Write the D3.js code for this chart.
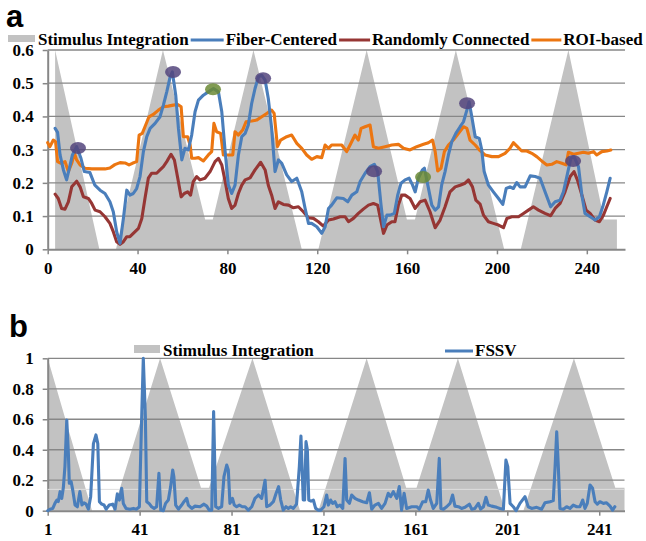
<!DOCTYPE html>
<html>
<head>
<meta charset="utf-8">
<script src="https://cdnjs.cloudflare.com/ajax/libs/d3/7.8.5/d3.min.js"></script>
<style>
  body { margin: 0; background: #fff; }
  svg text { font-family: "Liberation Serif", "Times New Roman", serif; font-weight: bold; font-size: 17px; fill: #000; }
  svg text.panel-label { font-family: "Liberation Sans", Arial, sans-serif; font-size: 31px; }
</style>
</head>
<body>
<div id="chart"></div>
<script>
// ---- panel a data ----
const topStimX = [3.3, 3.3, 23, 30.4, 51.3, 70.1, 73.5, 91.6, 113.1, 120.5, 142, 159.9, 163.5, 181.7, 203.2, 210.6, 231.8, 247.7, 253.4, 253.4];
const topStimY = [0, 0.6, 0, 0, 0.6, 0.09, 0.09, 0.6, 0, 0, 0.6, 0.09, 0.09, 0.6, 0, 0, 0.6, 0.09, 0.09, 0];

const fiberCentered = [[3.3,0.364],[4.4,0.352],[5.5,0.284],[7,0.239],[8.4,0.209],[10,0.254],[11,0.284],[12.9,0.309],[14.8,0.274],[16.3,0.234],[18.8,0.231],[21,0.193],[23.3,0.178],[25.5,0.168],[27.7,0.143],[29.2,0.113],[30.7,0.053],[32.2,0.018],[33.7,0.093],[35.2,0.178],[36.6,0.163],[38.1,0.168],[39.6,0.183],[41.1,0.219],[42.6,0.294],[44.1,0.339],[45.6,0.364],[47.8,0.379],[50,0.399],[51.5,0.434],[53,0.474],[54.5,0.519],[55.5,0.534],[57,0.464],[58.2,0.364],[59.7,0.269],[61.1,0.304],[62.6,0.299],[64.1,0.344],[65.6,0.414],[67.1,0.449],[69.3,0.464],[71.5,0.474],[73.8,0.484],[76,0.474],[77.5,0.414],[79,0.294],[80.4,0.194],[81.9,0.168],[83.4,0.193],[84.9,0.284],[86.4,0.339],[87.9,0.349],[89.3,0.374],[90.8,0.439],[92.3,0.484],[93.8,0.519],[95.3,0.524],[96.8,0.509],[98.2,0.454],[99.7,0.364],[101.2,0.234],[102.7,0.269],[104.2,0.259],[106.4,0.224],[108.6,0.204],[110.9,0.214],[113.1,0.173],[114.6,0.123],[116.1,0.078],[117.5,0.078],[119.8,0.068],[122,0.048],[123.5,0.068],[125,0.123],[126.4,0.133],[128.7,0.155],[131.6,0.153],[133.6,0.143],[135.4,0.163],[137.6,0.173],[139.1,0.204],[141.3,0.229],[143.5,0.249],[145.4,0.256],[146.9,0.234],[148.4,0.133],[149.5,0.068],[151,0.103],[152.4,0.103],[154.3,0.108],[155.8,0.163],[157.3,0.199],[159.1,0.209],[160.9,0.214],[162.4,0.194],[163.6,0.173],[165,0.214],[166.8,0.239],[167.7,0.244],[169.2,0.194],[171,0.133],[172.5,0.118],[174,0.128],[175.4,0.194],[176.9,0.234],[178.4,0.284],[179.9,0.324],[181.7,0.349],[183.6,0.369],[185.1,0.384],[186.6,0.419],[187.6,0.444],[188.8,0.399],[190.3,0.339],[192.1,0.334],[193.2,0.3],[194.3,0.234],[196.2,0.193],[198.4,0.173],[200.7,0.153],[202.6,0.135],[204.1,0.183],[205.8,0.188],[207.3,0.183],[208.8,0.201],[210.3,0.188],[212.5,0.188],[214.8,0.221],[217,0.219],[219.2,0.214],[221.4,0.173],[223.9,0.128],[225.9,0.143],[228.1,0.148],[229.6,0.173],[231.4,0.228],[232.9,0.274],[234.3,0.279],[236.3,0.249],[237.8,0.163],[239.2,0.108],[241.5,0.098],[243.7,0.088],[245.6,0.098],[247.1,0.128],[248.9,0.173],[250.4,0.214]];

const randomlyConnected = [[3.3,0.166],[4.7,0.153],[6.2,0.123],[7.7,0.121],[9.2,0.143],[10.7,0.188],[12.9,0.205],[14.4,0.188],[15.9,0.158],[18.1,0.153],[19.6,0.138],[21.1,0.118],[23.3,0.113],[25.5,0.098],[27.7,0.078],[29.2,0.053],[30.7,0.023],[32.2,0.015],[33.7,0.023],[35.2,0.038],[36.6,0.038],[38.1,0.048],[40.4,0.063],[41.9,0.093],[43.3,0.153],[44.8,0.214],[46.3,0.229],[48.5,0.229],[50,0.239],[51.5,0.249],[53,0.264],[54.9,0.286],[56.4,0.269],[57.9,0.214],[59.4,0.158],[60.8,0.168],[62.3,0.173],[63.6,0.163],[64.8,0.204],[66.3,0.219],[67.8,0.209],[70,0.214],[72.3,0.234],[74.5,0.264],[76,0.274],[77.5,0.254],[79,0.204],[80.4,0.153],[81.9,0.123],[83.4,0.133],[84.9,0.168],[86.4,0.193],[87.9,0.209],[90.1,0.215],[92.3,0.239],[94.8,0.262],[96.8,0.239],[98.2,0.193],[99.7,0.163],[101.2,0.123],[102.7,0.143],[104.9,0.135],[107.2,0.133],[109.4,0.125],[111.6,0.128],[113.8,0.113],[116.1,0.095],[118.3,0.093],[120.5,0.083],[122.7,0.07],[125,0.088],[127.2,0.091],[130.2,0.098],[132.4,0.098],[133.9,0.083],[136.1,0.093],[138.3,0.108],[140.5,0.121],[142.8,0.133],[145,0.138],[146.9,0.133],[148.4,0.083],[149.5,0.048],[151,0.073],[153.2,0.083],[154.6,0.083],[156.1,0.133],[157.6,0.163],[159.1,0.163],[161.3,0.153],[163.6,0.123],[165.8,0.143],[168,0.148],[170.2,0.113],[172.5,0.065],[174.7,0.088],[176.9,0.128],[179.1,0.173],[181.4,0.188],[183.6,0.193],[185.8,0.199],[187.3,0.209],[189.1,0.188],[190.6,0.148],[192.5,0.136],[194,0.103],[196.2,0.083],[198.4,0.078],[200.7,0.073],[202.9,0.065],[204.4,0.093],[206.6,0.098],[209.6,0.098],[211.8,0.108],[214,0.118],[216.2,0.128],[218.5,0.118],[221.4,0.108],[223.9,0.101],[225.9,0.123],[228.1,0.138],[230.3,0.173],[232.6,0.219],[234.3,0.234],[235.8,0.209],[237.8,0.163],[239.7,0.118],[241.5,0.108],[243.7,0.088],[245.6,0.083],[247.4,0.103],[248.9,0.128],[250.4,0.153]];

const roiBased = [[0,0.321],[1,0.309],[2.5,0.329],[3.5,0.324],[4.4,0.264],[5.9,0.259],[7.7,0.264],[9.2,0.234],[10.7,0.259],[11.9,0.289],[12.9,0.269],[14.4,0.254],[16.6,0.244],[19.6,0.242],[22.5,0.242],[25.5,0.242],[27.7,0.245],[29.9,0.255],[32.2,0.261],[34.4,0.26],[36.2,0.254],[37.7,0.259],[39.6,0.264],[40.7,0.344],[42.1,0.349],[43.3,0.369],[45.1,0.399],[47,0.406],[49.3,0.419],[51.5,0.429],[53.7,0.431],[55.9,0.434],[57.9,0.436],[59.4,0.429],[60.4,0.339],[62.3,0.339],[63.4,0.314],[64.1,0.274],[65.6,0.274],[67.1,0.276],[69.3,0.266],[71.5,0.284],[73,0.294],[74,0.379],[75.2,0.354],[77,0.349],[78.2,0.284],[80.4,0.284],[82.4,0.284],[83.4,0.354],[84.9,0.344],[86.8,0.359],[88.3,0.384],[90.8,0.386],[93,0.389],[95.3,0.399],[97.5,0.409],[99.7,0.419],[100.8,0.409],[102.3,0.309],[103.7,0.329],[106.4,0.339],[108.6,0.344],[110.9,0.319],[113.1,0.304],[115.3,0.284],[117.5,0.271],[119.8,0.279],[122,0.276],[123.5,0.314],[125,0.304],[126.4,0.314],[128.7,0.314],[130.9,0.314],[133.1,0.294],[134.6,0.314],[136.8,0.344],[138.3,0.329],[139.5,0.364],[141.3,0.369],[143.5,0.374],[145,0.309],[147.2,0.304],[150.2,0.309],[153.2,0.314],[156.1,0.316],[158.4,0.304],[161.3,0.299],[164.3,0.309],[167.3,0.316],[169.5,0.321],[171.3,0.329],[172.5,0.294],[173.6,0.236],[175.1,0.244],[176.6,0.294],[178.4,0.314],[180.6,0.329],[182.9,0.349],[185.1,0.369],[186.6,0.364],[188,0.329],[190.3,0.314],[192.5,0.297],[194.7,0.284],[197.7,0.279],[200.7,0.279],[203.6,0.289],[205.8,0.304],[207.3,0.321],[209.1,0.309],[211,0.296],[213.3,0.296],[215.5,0.289],[217.7,0.279],[219.9,0.266],[222.2,0.254],[224.4,0.256],[226.6,0.264],[228.9,0.259],[230.8,0.254],[231.8,0.292],[234.1,0.286],[236.3,0.289],[238.5,0.292],[240.7,0.289],[243,0.294],[244.4,0.284],[246.7,0.294],[248.9,0.296],[250.7,0.299]];

const purpleMarks = [[13.5,0.305],[55.8,0.534],[95.9,0.515],[145.3,0.235],[186.7,0.44],[233.9,0.266]];
const greenMarks = [[73.6,0.482],[167.1,0.218]];

const topYTicks = [0, 0.1, 0.2, 0.3, 0.4, 0.5, 0.6];
const topXTicks = [0, 40, 80, 120, 160, 200, 240];

// ---- panel b data ----
const bottomStimX = [1, 1, 20.3, 29.4, 49.9, 67.7, 71.2, 90.1, 110.8, 118.8, 139.8, 157, 161.5, 179.5, 200, 208, 230, 248, 252, 252];
const bottomStimY = [0, 1, 0, 0, 1, 0.15, 0.15, 1, 0, 0, 1, 0.15, 0.15, 1, 0, 0, 1, 0.15, 0.15, 0];
const stimFloorLine = [0.14];

const fssv = [[1,0],[2,0.01],[3.2,0.015],[4.2,0.05],[5,0.07],[5.6,0.06],[6.4,0.125],[7.1,0.08],[7.8,0.15],[8.5,0.29],[9.3,0.595],[10,0.375],[10.4,0.18],[11.2,0.19],[11.9,0.135],[12.9,0.037],[13.9,0.026],[15,0.125],[15.9,0.037],[16.8,0.052],[17.7,0.043],[18.7,0.01],[19.7,0.092],[20.9,0.44],[22,0.497],[22.8,0.44],[23.5,0.059],[24.5,0.043],[25.5,0.037],[26.4,0.01],[27.8,0.037],[29.3,0.043],[30.3,0.01],[31.3,0.11],[32.2,0.07],[33.2,0.147],[33.9,0.048],[35.1,0.015],[36.8,0.01],[38.3,0.015],[39.7,0.01],[40.9,0.026],[41.9,0.617],[42.6,1],[43.5,0.617],[44.1,0.059],[45.1,0.048],[46.2,0.026],[47.3,0.015],[48.4,0.026],[49.4,0.245],[50.2,0.004],[51.3,0],[52.3,0.048],[53.5,0.07],[54.5,0.158],[55.4,0.267],[55.9,0.223],[56.7,0.037],[57.9,0.01],[59.3,0.037],[60.3,0.059],[61.5,0.081],[62.2,0.037],[63.7,0.015],[65.1,0.03],[67.3,0.026],[69,0.043],[70.2,0.03],[71.3,0.004],[72.4,0.004],[73.2,0.65],[74.1,0.026],[75.3,0.015],[76.7,0.026],[77.7,0.223],[78.9,0.3],[79.6,0.267],[80.3,0.048],[81.4,0.081],[82.2,0.037],[83.2,0.026],[84.4,0.037],[85.7,0.026],[86.9,0.026],[88.3,0.004],[89.8,0.026],[91.2,0.081],[92.7,0.103],[94.1,0.081],[95.6,0.2],[96.3,0.026],[97.7,0.037],[99.2,0.059],[100.4,0.114],[101.5,0.158],[102.4,0.07],[103.5,0.004],[104.7,0.026],[105.7,0.015],[106.7,0.026],[107.9,0.015],[109.3,0.043],[110.5,0.289],[111.2,0.49],[112.2,0.07],[112.8,0.07],[113.4,0.453],[114,0.398],[114.6,0.07],[115.6,0.063],[116.6,0.07],[117.6,0.015],[118.8,0.004],[119.8,0.004],[121.2,0.026],[122.4,0.103],[123.1,0.037],[124.1,0.07],[125,0.048],[126,0.059],[127,0.026],[128.2,0.037],[129.4,0.015],[130.4,0.343],[131.1,0.07],[132.3,0.048],[133.3,0.103],[134.7,0.081],[136.2,0.07],[138.1,0.059],[139.8,0.052],[141,0.118],[142,0.01],[143.4,0.037],[144.9,0.048],[146.3,0.015],[147.8,0.048],[149.2,0.114],[150.2,0.092],[151.4,0.125],[152.9,0.081],[154,0.158],[155,0.004],[156.1,0.114],[157.2,0.015],[159.4,0.026],[161.6,0.026],[162.7,0.01],[164.2,0.059],[165.5,0.059],[166.6,0.136],[167.6,0.07],[168.8,0.015],[170.3,0.048],[171.4,0.343],[172.1,0.015],[173.2,0.01],[174.6,0.026],[176.1,0.048],[177.2,0.103],[178.2,0.03],[179.7,0.026],[181.1,0.015],[182.6,0.022],[184.5,0.043],[185.5,0.01],[186.9,0.015],[188.4,0.048],[189.4,0.01],[190.6,0.026],[191.7,0.088],[192.7,0.037],[194.2,0.03],[196.4,0.022],[197.8,0.015],[199.3,0.01],[200.4,0.332],[201.2,0.289],[202.2,0.048],[203.6,0.026],[204.8,0],[206.5,0.048],[208.7,0.092],[210.1,0.026],[211.6,0.015],[213.8,0.022],[215.9,0.01],[217.4,0.052],[219.6,0.059],[221,0.066],[221.8,0.289],[222.5,0.518],[223.2,0.289],[223.9,0.015],[225.4,0.01],[226.8,0.026],[228.3,0.015],[229.7,0.037],[231.2,0.026],[232.6,0.026],[233.8,0.07],[234.8,0.015],[235.8,0.048],[237,0.169],[238.1,0.147],[239.2,0.059],[240.2,0.043],[241.3,0.059],[242.8,0.048],[244.2,0.052],[245.7,0.03],[246.8,0.004],[247.8,0.026]];

const bottomYTicks = [0, 0.2, 0.4, 0.6, 0.8, 1];
const bottomXTicks = [1, 41, 81, 121, 161, 201, 241];

const colors = { stim: "#c2c2c2", fiber: "#4a7ebb", random: "#963634", roi: "#ec7611", grid: "#878787" };

const svg = d3.select("#chart").append("svg")
  .attr("width", 646)
  .attr("height", 541);

function drawPanel(cfg) {
  const g = svg.append("g").attr("transform", `translate(${cfg.left},${cfg.top})`);
  const x = d3.scaleLinear().domain(cfg.xDomain).range([0, cfg.width]);
  const y = d3.scaleLinear().domain(cfg.yDomain).range([cfg.height, 0]);

  const area = d3.area().x(d => x(d[0])).y0(y(0)).y1(d => y(d[1]));
  g.append("path")
    .datum(d3.zip(cfg.stimX, cfg.stimY))
    .attr("d", area)
    .attr("fill", colors.stim);

  g.selectAll(".grid")
    .data(cfg.yTicks.filter(d => d > 0))
    .enter().append("line")
    .attr("class", "grid")
    .attr("x1", 0).attr("x2", cfg.width)
    .attr("y1", d => y(d)).attr("y2", d => y(d))
    .style("stroke", colors.grid)
    .style("stroke-width", 1.3);

  const yAxis = g.append("g")
    .call(d3.axisLeft(y).tickValues(cfg.yTicks).tickSize(5).tickSizeOuter(0).tickPadding(9)
      .tickFormat(cfg.yFormat));
  const xAxis = g.append("g")
    .attr("transform", `translate(0, ${cfg.height})`)
    .call(d3.axisBottom(x).tickValues(cfg.xTicks).tickSize(5).tickSizeOuter(0).tickPadding(cfg.xPad));

  [yAxis, xAxis].forEach(a => {
    a.attr("font-size", null).attr("font-family", null);
    a.selectAll("line").style("stroke", colors.grid).style("stroke-width", 1.5);
    a.select(".domain").style("stroke", colors.grid).style("stroke-width", 2);
  });

  return { g, x, y };
}

function addLine(panel, data, color, width) {
  const line = d3.line().x(d => panel.x(d[0])).y(d => panel.y(d[1]));
  panel.g.append("path")
    .datum(data)
    .attr("d", line)
    .style("fill", "none")
    .style("stroke", color)
    .style("stroke-width", width)
    .style("stroke-linejoin", "round")
    .style("stroke-linecap", "round");
}

// panel a
const panelA = drawPanel({
  left: 47.7, top: 50, width: 577.3, height: 199.3,
  xDomain: [0, 257], yDomain: [0, 0.6],
  stimX: topStimX, stimY: topStimY,
  yTicks: topYTicks, xTicks: topXTicks, xPad: 8,
  yFormat: d => d === 0 ? "0" : d3.format(".1f")(d)
});
addLine(panelA, roiBased, colors.roi, 3.1);
addLine(panelA, randomlyConnected, colors.random, 3.1);
addLine(panelA, fiberCentered, colors.fiber, 3.1);

panelA.g.selectAll(".mark-p")
  .data(purpleMarks)
  .enter().append("ellipse")
  .attr("cx", d => panelA.x(d[0])).attr("cy", d => panelA.y(d[1]))
  .attr("rx", 8).attr("ry", 6)
  .style("fill", "#54457c").style("opacity", 0.85);
panelA.g.selectAll(".mark-g")
  .data(greenMarks)
  .enter().append("ellipse")
  .attr("cx", d => panelA.x(d[0])).attr("cy", d => panelA.y(d[1]))
  .attr("rx", 8).attr("ry", 6)
  .style("fill", "#6b8a35").style("opacity", 0.85);

// panel b
const panelB = drawPanel({
  left: 47.7, top: 358.3, width: 576.8, height: 152.4,
  xDomain: [1, 252], yDomain: [0, 1],
  stimX: bottomStimX, stimY: bottomStimY,
  yTicks: bottomYTicks, xTicks: bottomXTicks, xPad: 7,
  yFormat: d => (d === 0 || d === 1) ? String(d) : d3.format(".1f")(d)
});
panelB.g.selectAll(".floor")
  .data(stimFloorLine)
  .enter().append("line")
  .attr("x1", 0).attr("x2", panelB.x(252))
  .attr("y1", d => panelB.y(d)).attr("y2", d => panelB.y(d))
  .style("stroke", "#dedede").style("stroke-width", 1);
addLine(panelB, fssv, colors.fiber, 3.1);

// legends
function drawLegend(items, startX, baseY) {
  let cx = startX;
  items.forEach(item => {
    if (item.kind === "area") {
      svg.append("rect")
        .attr("x", cx).attr("y", baseY - item.h - 3)
        .attr("width", item.w).attr("height", item.h)
        .attr("fill", item.color);
    } else {
      svg.append("line")
        .attr("x1", cx).attr("x2", cx + item.w)
        .attr("y1", baseY - 5).attr("y2", baseY - 5)
        .style("stroke", item.color).style("stroke-width", 3);
    }
    cx += item.w + item.gap;
    const t = svg.append("text").attr("x", cx).attr("y", baseY).text(item.name);
    cx += t.node().getComputedTextLength() + 2;
  });
}

drawLegend([
  { kind: "area", name: "Stimulus Integration", color: colors.stim, w: 27, h: 7, gap: 3 },
  { kind: "line", name: "Fiber-Centered", color: colors.fiber, w: 33, gap: 2 },
  { kind: "line", name: "Randomly Connected", color: colors.random, w: 31, gap: 2 },
  { kind: "line", name: "ROI-based", color: colors.roi, w: 30, gap: 2 }
], 8, 45);

drawLegend([{ kind: "area", name: "Stimulus Integration", color: colors.stim, w: 26, h: 8, gap: 3 }], 134, 356);
drawLegend([{ kind: "line", name: "FSSV", color: colors.fiber, w: 28, gap: 2 }], 445, 356);

svg.append("text").attr("class", "panel-label").attr("x", 6).attr("y", 27).text("a");
svg.append("text").attr("class", "panel-label").attr("x", 9).attr("y", 337).text("b");
</script>
</body>
</html>
